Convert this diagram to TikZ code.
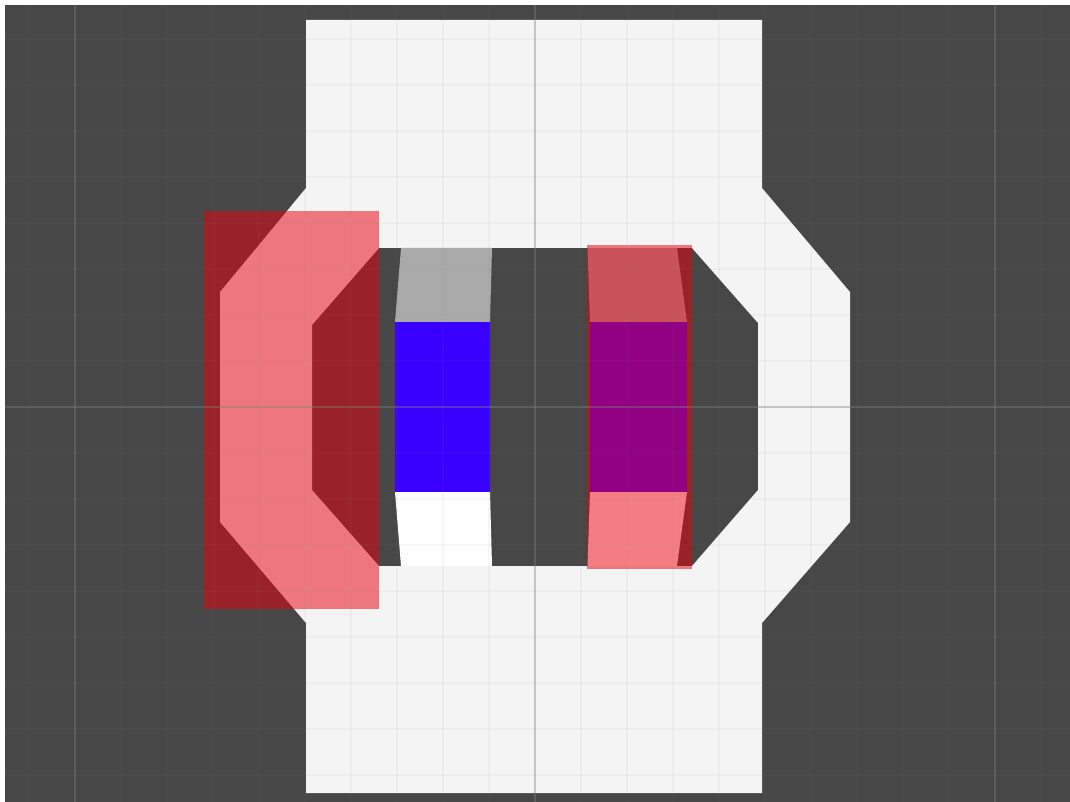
\documentclass[tikz,border=0pt]{standalone}
\definecolor{bgdark}{RGB}{71,71,71}
\definecolor{shapewhite}{RGB}{244,244,244}
\definecolor{blockgray}{RGB}{170,170,170}
\definecolor{blockblue}{RGB}{58,0,255}
\definecolor{overlayred}{RGB}{232,0,12}
\definecolor{gridgray}{RGB}{128,128,128}
\tikzset{
  overlay/.style={fill=overlayred, fill opacity=0.51},
  minorline/.style={draw=gridgray, draw opacity=0.06, line width=1.2pt},
  majorline/.style={draw=gridgray, draw opacity=0.4, line width=1.5pt}
}
\begin{document}
\begin{tikzpicture}[x=1pt,y=-1pt]
\useasboundingbox (0,0) rectangle (1070,802);
\fill[white] (0,0) rectangle (1070,802);
\fill[bgdark] (5,5) rectangle (1070,802);
% light frame with octagonal opening
\fill[shapewhite,even odd rule]
  (306,20) -- (762,20) -- (762,188) -- (850,292) -- (850,522) -- (762,623)
  -- (762,793) -- (306,793) -- (306,623) -- (220,522) -- (220,292) -- (306,188) -- cycle
  (379,248) -- (692,248) -- (758,323) -- (758,490) -- (692,566) -- (379,566)
  -- (312,490) -- (312,325) -- cycle;
% left column
\fill[blockgray] (401,248) -- (492,248) -- (490,322) -- (395,322) -- cycle;
\fill[blockblue] (395,322) rectangle (490,492);
\fill[white] (395,492) -- (490,492) -- (492,566) -- (401,566) -- cycle;
% right column
\fill[blockgray] (587.5,248) -- (677,248) -- (687,322) -- (590,322) -- cycle;
\fill[blockblue] (590,322) rectangle (687,492);
\fill[white] (590,492) -- (687,492) -- (677,566) -- (587.5,566) -- cycle;
% translucent red overlays
\fill[overlay] (204,211) rectangle (379,609);
\fill[overlay] (587,245) rectangle (692,569);
% grid
\foreach \gx in {29,121,167,213,259,305,351,397,443,489,581,627,673,719,765,811,857,903,949,1041}
  \draw[minorline] (\gx,5) -- (\gx,802);
\foreach \gy in {39,85,131,177,223,269,315,361,453,499,545,591,637,683,729,775}
  \draw[minorline] (5,\gy) -- (1070,\gy);
\foreach \gx in {75,535,995}
  \draw[majorline] (\gx,5) -- (\gx,802);
\draw[majorline] (5,407) -- (1070,407);
\end{tikzpicture}
\end{document}
